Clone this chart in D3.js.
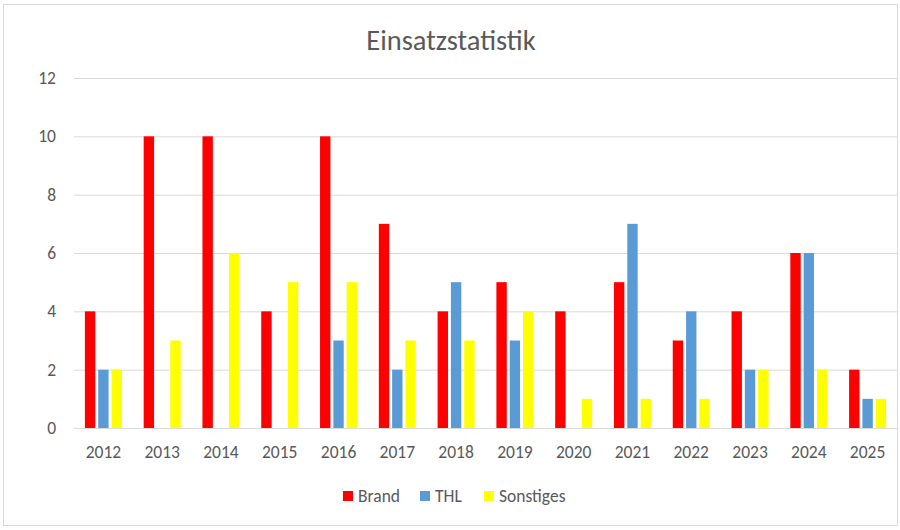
<!DOCTYPE html>
<meta charset="utf-8">
<script src="https://d3js.org/d3.v7.min.js"></script>
<style>
body { margin: 0; background: #fff; }
text { font-family: Carlito, Calibri, Lato, sans-serif; fill: #595959; }
</style>
<div id="main"></div>
<script>
const years = ["2012","2013","2014","2015","2016","2017","2018","2019","2020","2021","2022","2023","2024","2025"];
const brand = [4,10,10,4,10,7,4,5,4,5,3,4,6,2];
const thl = [2,0,0,0,3,2,5,3,0,7,4,2,6,1];
const sonstiges = [2,3,6,5,5,3,3,4,1,1,1,2,2,1];
const seriesNames = ["Brand","THL","Sonstiges"];
const colors = ["#ff0000","#5b9bd5","#ffff00"];
const yTicks = [0,2,4,6,8,10,12];

const width = 900, height = 530;
const plot = {left: 74, right: 897, top: 78, bottom: 428};

const svg = d3.select("#main").append("svg")
    .attr("width", width)
    .attr("height", height);

svg.append("rect")
    .attr("x", 3.5).attr("y", 4.5)
    .attr("width", 894).attr("height", 521)
    .attr("fill", "#fff")
    .attr("stroke", "#d9d9d9");

let x = d3.scaleBand()
    .domain(years)
    .range([plot.left, plot.right]);

let y = d3.scaleLinear()
    .domain([0, 12])
    .range([plot.bottom, plot.top]);

let x1 = d3.scaleBand()
    .domain(seriesNames)
    .range([x.bandwidth() / 2 - 18.5, x.bandwidth() / 2 + 18.5])
    .paddingInner(0.22);

// gridlines
svg.append("g")
  .selectAll("line")
  .data(yTicks)
  .enter().append("line")
    .attr("x1", plot.left).attr("x2", plot.right)
    .attr("y1", d => y(d) + 0.5).attr("y2", d => y(d) + 0.5)
    .attr("stroke", "#d9d9d9")
    .attr("stroke-width", 1);

// y labels
svg.append("g")
  .selectAll("text")
  .data(yTicks)
  .enter().append("text")
    .attr("x", 56)
    .attr("y", d => y(d))
    .attr("dy", "0.35em")
    .attr("text-anchor", "end")
    .attr("font-size", 17.5)
    .text(d => d);

const table = years.map((yr, i) => ({year: yr, values: [brand[i], thl[i], sonstiges[i]]}));

let groups = svg.append("g")
  .selectAll("g")
  .data(table)
  .enter().append("g")
    .attr("transform", d => "translate(" + x(d.year) + ",0)");

groups.selectAll("rect")
  .data(d => d.values.map((v, j) => ({name: seriesNames[j], value: v, color: colors[j]})))
  .enter().append("rect")
    .attr("x", d => x1(d.name))
    .attr("y", d => y(d.value))
    .attr("width", x1.bandwidth())
    .attr("height", d => y(0) - y(d.value))
    .attr("fill", d => d.color);

// x labels
svg.append("g")
  .selectAll("text")
  .data(years)
  .enter().append("text")
    .attr("x", d => x(d) + x.bandwidth() / 2)
    .attr("y", 452)
    .attr("dy", "0.35em")
    .attr("text-anchor", "middle")
    .attr("font-size", 17.5)
    .text(d => d);

// title
svg.append("text")
    .attr("x", 451)
    .attr("y", 40)
    .attr("dy", "0.35em")
    .attr("text-anchor", "middle")
    .attr("font-size", 28.5)
    .text("Einsatzstatistik");

// legend
const legendX = [343, 420, 484];
let legend = svg.append("g")
  .selectAll("g")
  .data(seriesNames)
  .enter().append("g")
    .attr("transform", (d, i) => "translate(" + legendX[i] + ",491)");

legend.append("rect")
    .attr("width", 10).attr("height", 10)
    .attr("fill", (d, i) => colors[i]);

legend.append("text")
    .attr("x", 15)
    .attr("y", 5)
    .attr("dy", "0.35em")
    .attr("font-size", 17.5)
    .text(d => d);
</script>
